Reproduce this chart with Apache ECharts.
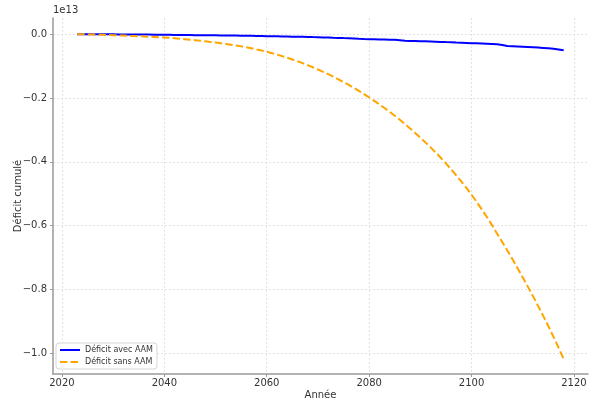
<!DOCTYPE html>
<html>
<head>
<meta charset="utf-8">
<script src="https://cdn.jsdelivr.net/npm/echarts@6/dist/echarts.min.js"></script>
<style>
html,body{margin:0;padding:0;background:#fff;}
#chart{width:589px;height:403px;}
</style>
</head>
<body>
<div id="chart"></div>
<script>
// Years 2023..2118
const years = [
2023,2024,2025,2026,2027,2028,2029,2030,2031,2032,2033,2034,2035,2036,2037,2038,2039,2040,
2041,2042,2043,2044,2045,2046,2047,2048,2049,2050,2051,2052,2053,2054,2055,2056,2057,2058,2059,2060,
2061,2062,2063,2064,2065,2066,2067,2068,2069,2070,2071,2072,2073,2074,2075,2076,2077,2078,2079,2080,
2081,2082,2083,2084,2085,2086,2087,2088,2089,2090,2091,2092,2093,2094,2095,2096,2097,2098,2099,2100,
2101,2102,2103,2104,2105,2106,2107,2108,2109,2110,2111,2112,2113,2114,2115,2116,2117,2118];

// Cumulative deficit, in units of 1e13
const deficitAvecAAM = [
0.0000,0.0000,-0.0001,-0.0001,-0.0002,-0.0002,-0.0003,-0.0004,-0.0005,-0.0006,-0.0007,-0.0008,-0.0009,-0.0011,-0.0012,-0.0014,-0.0016,-0.0018,
-0.0019,-0.0021,-0.0023,-0.0024,-0.0026,-0.0028,-0.0030,-0.0031,-0.0033,-0.0035,-0.0037,-0.0039,-0.0041,-0.0043,-0.0045,-0.0047,-0.0050,-0.0057,-0.0059,-0.0061,
-0.0063,-0.0065,-0.0070,-0.0072,-0.0075,-0.0077,-0.0080,-0.0084,-0.0089,-0.0093,-0.0100,-0.0104,-0.0110,-0.0115,-0.0121,-0.0126,-0.0132,-0.0141,-0.0148,-0.0154,
-0.0158,-0.0162,-0.0166,-0.0170,-0.0173,-0.0188,-0.0205,-0.0210,-0.0214,-0.0219,-0.0223,-0.0228,-0.0234,-0.0240,-0.0247,-0.0253,-0.0260,-0.0266,-0.0272,-0.0279,
-0.0286,-0.0293,-0.0300,-0.0307,-0.0315,-0.0335,-0.0370,-0.0377,-0.0385,-0.0393,-0.0401,-0.0410,-0.0419,-0.0428,-0.0438,-0.0455,-0.0480,-0.0505];

const deficitSansAAM = [
0.0000,-0.0002,-0.0005,-0.0009,-0.0013,-0.0018,-0.0024,-0.0030,-0.0036,-0.0042,-0.0049,-0.0056,-0.0063,-0.0070,-0.0077,-0.0084,-0.0092,-0.0100,
-0.0112,-0.0125,-0.0139,-0.0154,-0.0170,-0.0186,-0.0203,-0.0221,-0.0240,-0.0260,-0.0281,-0.0303,-0.0327,-0.0353,-0.0380,-0.0410,-0.0442,-0.0476,-0.0512,-0.0550,
-0.0593,-0.0638,-0.0686,-0.0737,-0.0790,-0.0847,-0.0907,-0.0970,-0.1036,-0.1106,-0.1178,-0.1253,-0.1331,-0.1413,-0.1500,-0.1588,-0.1680,-0.1776,-0.1876,-0.1980,
-0.2087,-0.2198,-0.2312,-0.2431,-0.2555,-0.2683,-0.2815,-0.2952,-0.3093,-0.3240,-0.3390,-0.3545,-0.3705,-0.3870,-0.4050,-0.4232,-0.4420,-0.4615,-0.4818,-0.5030,
-0.5255,-0.5488,-0.5730,-0.5982,-0.6250,-0.6512,-0.6780,-0.7054,-0.7334,-0.7620,-0.7910,-0.8208,-0.8513,-0.8826,-0.9145,-0.9480,-0.9825,-1.0180];

const xTicks = [2020, 2040, 2060, 2080, 2100, 2120];
const yTicks = [-1.0, -0.8, -0.6, -0.4, -0.2, 0.0];
const seriesNames = ['Déficit avec AAM', 'Déficit sans AAM'];

const FONT = 'DejaVu Sans';
const chart = echarts.init(document.getElementById('chart'), null, {renderer: 'canvas'});

function pairs(xs, ys) { return xs.map((x, i) => [x, ys[i]]); }

const gridStyle = {show: true, lineStyle: {color: '#e3e3e3', width: 1, type: [2, 2]}};
const axisLineStyle = {show: true, onZero: false, lineStyle: {color: '#9a9a9a', width: 1.5}};

chart.setOption({
  animation: false,
  backgroundColor: '#ffffff',
  grid: {left: 53, right: 1, top: 18, bottom: 29, containLabel: false, outerBoundsMode: 'none'},
  xAxis: {
    type: 'value',
    min: 2018.25, max: 2122.75,
    name: 'Année', nameLocation: 'middle', nameGap: 16, nameMoveOverlap: false,
    nameTextStyle: {fontFamily: FONT, fontSize: 10, color: '#333'},
    axisLine: axisLineStyle,
    axisTick: {show: true, customValues: xTicks, length: 3, inside: false, lineStyle: {color: '#9a9a9a', width: 1}},
    axisLabel: {customValues: xTicks, fontFamily: FONT, fontSize: 10, color: '#333', margin: 4, formatter: v => String(v)},
    splitLine: gridStyle
  },
  yAxis: {
    type: 'value',
    min: -1.0649, max: 0.0509,
    name: 'Déficit cumulé', nameLocation: 'middle', nameGap: 30, nameRotate: 90, nameMoveOverlap: false,
    nameTextStyle: {fontFamily: FONT, fontSize: 10, color: '#333'},
    axisLine: axisLineStyle,
    axisTick: {show: true, customValues: yTicks, length: 3, lineStyle: {color: '#9a9a9a', width: 1}},
    axisLabel: {customValues: yTicks, fontFamily: FONT, fontSize: 10, color: '#333', margin: 6,
      formatter: v => (v < 0 ? '\u2212' : '') + Math.abs(v).toFixed(1)},
    splitLine: gridStyle
  },
  legend: {
    orient: 'vertical', left: 56, bottom: 34,
    data: seriesNames,
    itemWidth: 20, itemHeight: 8, itemGap: 4,
    itemStyle: {opacity: 0},
    backgroundColor: '#fff', borderColor: '#d6d6d6', borderWidth: 1, borderRadius: 3,
    padding: [3, 4, 3, 3],
    textStyle: {fontFamily: FONT, fontSize: 8, color: '#333'}
  },
  graphic: [{
    type: 'text', left: 53, top: 5,
    style: {text: '1e13', fontFamily: FONT, fontSize: 10, fill: '#333'}
  }],
  series: [
    {name: seriesNames[0], type: 'line', data: pairs(years, deficitAvecAAM), showSymbol: false, symbol: 'none',
     lineStyle: {color: '#0000ff', width: 2}, itemStyle: {color: '#0000ff'}, z: 2},
    {name: seriesNames[1], type: 'line', data: pairs(years, deficitSansAAM), showSymbol: false, symbol: 'none',
     lineStyle: {color: '#ffa500', width: 2, type: [7.4, 3.2]}, itemStyle: {color: '#ffa500'}, z: 3}
  ]
});
</script>
</body>
</html>
